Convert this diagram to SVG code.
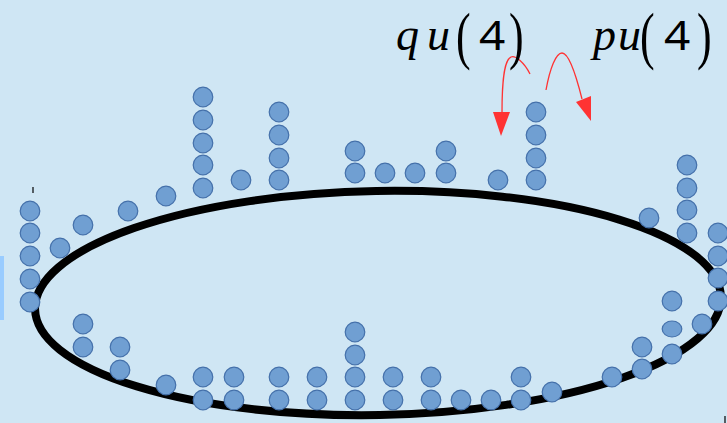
<svg xmlns="http://www.w3.org/2000/svg" xmlns:xlink="http://www.w3.org/1999/xlink" width="727" height="423" viewBox="0 0 727 423">
<style>
.bead{fill:#709fd2;stroke:#4470aa;stroke-width:1.2}
.ring{fill:none;stroke:#000;stroke-width:8}
.arrow{fill:none;stroke:#ff3333;stroke-width:1.3}
.head{fill:#ff3333}
.it{font-family:"Liberation Serif",serif;font-style:italic;fill:#000}
.par{font-family:"Liberation Serif",serif;fill:#000}
.dig{font-family:"Noto Sans","Liberation Sans",sans-serif;fill:#000}
.tick{stroke:#000;stroke-width:1.2}
</style>
<defs>
<circle id="b" r="9.8" class="bead"/>
</defs>
<rect x="0" y="0" width="727" height="423" fill="#cfe6f4"/>
<rect x="0" y="256" width="4" height="64" fill="#99ccff"/>
<line class="tick" x1="33" y1="187" x2="33" y2="193"/>
<line class="tick" x1="725" y1="416" x2="725" y2="423"/>
<g id="ring">
<ellipse class="ring" cx="378" cy="303" rx="343" ry="112" transform="rotate(-1 378 303)"/>
</g>
<g id="upper-beads">
<g id="u1"><use href="#b" x="30" y="211"/><use href="#b" x="30" y="233"/><use href="#b" x="30" y="256"/><use href="#b" x="30" y="279"/><use href="#b" x="30" y="302"/></g>
<g id="u2"><use href="#b" x="60" y="248"/></g>
<g id="u3"><use href="#b" x="83" y="225"/></g>
<g id="u4"><use href="#b" x="128" y="211"/></g>
<g id="u5"><use href="#b" x="166" y="196"/></g>
<g id="u6"><use href="#b" x="203" y="97"/><use href="#b" x="203" y="120"/><use href="#b" x="203" y="143"/><use href="#b" x="203" y="165"/><use href="#b" x="203" y="188"/></g>
<g id="u7"><use href="#b" x="241" y="180"/></g>
<g id="u8"><use href="#b" x="279" y="112"/><use href="#b" x="279" y="135"/><use href="#b" x="279" y="158"/><use href="#b" x="279" y="180"/></g>
<g id="u9"><use href="#b" x="355" y="151"/><use href="#b" x="355" y="173"/></g>
<g id="u10"><use href="#b" x="385" y="173"/></g>
<g id="u11"><use href="#b" x="415" y="173"/></g>
<g id="u12"><use href="#b" x="446" y="151"/><use href="#b" x="446" y="173"/></g>
<g id="u13"><use href="#b" x="498" y="180"/></g>
<g id="u14"><use href="#b" x="536" y="112"/><use href="#b" x="536" y="135"/><use href="#b" x="536" y="158"/><use href="#b" x="536" y="180"/></g>
<g id="u15"><use href="#b" x="649" y="218"/></g>
<g id="u16"><use href="#b" x="687" y="165"/><use href="#b" x="687" y="188"/><use href="#b" x="687" y="210"/><use href="#b" x="687" y="233"/></g>
<g id="u17"><use href="#b" x="718" y="233"/><use href="#b" x="718" y="256"/><use href="#b" x="718" y="278"/><use href="#b" x="718" y="301"/></g>
</g>
<g id="lower-beads">
<g id="l1"><use href="#b" x="83" y="324"/><use href="#b" x="83" y="347"/></g>
<g id="l2"><use href="#b" x="120" y="347"/><use href="#b" x="120" y="370"/></g>
<g id="l3"><use href="#b" x="166" y="385"/></g>
<g id="l4"><use href="#b" x="203" y="377"/><use href="#b" x="203" y="400"/></g>
<g id="l5"><use href="#b" x="234" y="377"/><use href="#b" x="234" y="400"/></g>
<g id="l6"><use href="#b" x="279" y="377"/><use href="#b" x="279" y="400"/></g>
<g id="l7"><use href="#b" x="317" y="377"/><use href="#b" x="317" y="400"/></g>
<g id="l8"><use href="#b" x="355" y="332"/><use href="#b" x="355" y="355"/><use href="#b" x="355" y="377"/><use href="#b" x="355" y="400"/></g>
<g id="l9"><use href="#b" x="393" y="377"/><use href="#b" x="393" y="400"/></g>
<g id="l10"><use href="#b" x="431" y="377"/><use href="#b" x="431" y="400"/></g>
<g id="l11"><use href="#b" x="461" y="400"/></g>
<g id="l12"><use href="#b" x="491" y="400"/></g>
<g id="l13"><use href="#b" x="521" y="377"/><use href="#b" x="521" y="400"/></g>
<g id="l14"><use href="#b" x="552" y="392"/></g>
<g id="l15"><use href="#b" x="612" y="377"/></g>
<g id="l16"><use href="#b" x="642" y="347"/><use href="#b" x="642" y="369"/></g>
<g id="l17"><use href="#b" x="672" y="301"/><ellipse class="bead" cx="672" cy="329" rx="9.8" ry="8"/><use href="#b" x="672" y="354"/></g>
<g id="l18"><use href="#b" x="702" y="324"/></g>
</g>
<g id="connectors">
<path class="arrow" d="M530,74 C524,62 515,55 511,57 C505,60 502,75 502,113"/>
<polygon class="head" points="493,112 510,112 501,136"/>
<path class="arrow" d="M546,90 C550,68 556,53 562,53 C569,53 576,75 582,99"/>
<polygon class="head" points="576,102 591,96 591,121"/>
</g>
<g id="label-qu">
<text class="it" x="396" y="50" font-size="46">q</text>
<text class="it" x="427" y="50" font-size="46">u</text>
<text class="par" transform="translate(456,57) scale(1.1,1.6)" font-size="40">(</text>
<text class="dig" transform="translate(479,50) scale(1.15,1)" font-size="40">4</text>
<text class="par" transform="translate(509,57) scale(1.1,1.6)" font-size="40">)</text>
</g>
<g id="label-pu">
<text class="it" x="593" y="50" font-size="46">p</text>
<text class="it" x="618" y="50" font-size="46">u</text>
<text class="par" transform="translate(640,57) scale(1.1,1.6)" font-size="40">(</text>
<text class="dig" transform="translate(664,50) scale(1.15,1)" font-size="40">4</text>
<text class="par" transform="translate(697,57) scale(1.1,1.6)" font-size="40">)</text>
</g>
</svg>
